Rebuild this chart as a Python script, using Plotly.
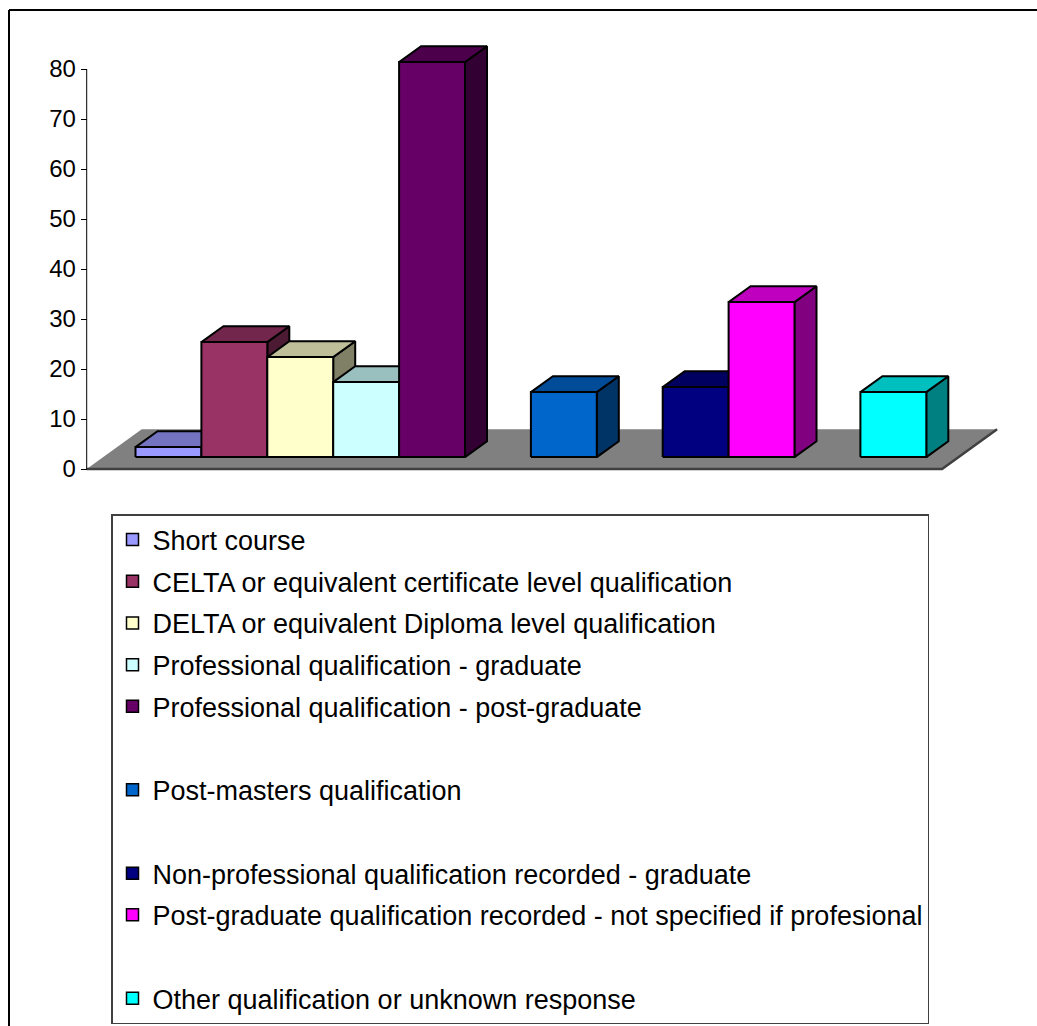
import plotly.graph_objects as go

# ---- data -------------------------------------------------------------
series_names = [
    "Short course",
    "CELTA or equivalent certificate level qualification",
    "DELTA or equivalent Diploma level qualification",
    "Professional qualification - graduate",
    "Professional qualification - post-graduate",
    "",
    "Post-masters qualification",
    "",
    "Non-professional qualification recorded - graduate",
    "Post-graduate qualification recorded - not specified if profesional",
    "",
    "Other qualification or unknown response",
]
series_colors = [
    "#9999FF", "#993366", "#FFFFCC", "#CCFFFF", "#660066", "#FF8080",
    "#0066CC", "#CCCCFF", "#000080", "#FF00FF", "#FFFF00", "#00FFFF",
]
series_values = [2, 23, 20, 15, 79, None, 13, None, 14, 31, None, 13]
y_ticks = [0, 10, 20, 30, 40, 50, 60, 70, 80]

# ---- page / plot geometry (pixels) ------------------------------------
W, H = 1037, 1026
PLOT_L, PLOT_R, PLOT_T, PLOT_B = 76, 1000, 20, 480
AXIS_X_PX, ZERO_Y_PX = 86.7, 469.0
SLOT_PX, VAL_PX = 65.9, 5.0

# ---- oblique 3D projection in data units ------------------------------
FLOOR_L, FLOOR_R = -0.49, 12.49      # floor extent in slot units
DEPTH_DX, DEPTH_DY = 0.835, 7.94     # full floor depth as (slots, values)
BAR_D0, BAR_D1 = 0.30, 0.70          # bar front / back depth fractions


def proj(s, v, d):
    return s + d * DEPTH_DX, v + d * DEPTH_DY


def shade(hex_color, k):
    h = hex_color.lstrip("#")
    r, g, b = (int(h[i:i + 2], 16) for i in (0, 2, 4))
    return "#%02X%02X%02X" % (round(r * k), round(g * k), round(b * k))


def poly(points, fill, line_color="black", line_width=2):
    xs = [p[0] for p in points] + [points[0][0]]
    ys = [p[1] for p in points] + [points[0][1]]
    return go.Scatter(
        x=xs, y=ys, mode="lines", fill="toself", fillcolor=fill,
        line=dict(color=line_color, width=line_width),
        hoverinfo="skip", showlegend=False,
    )


fig = go.Figure()

# floor
floor_pts = [proj(FLOOR_L, 0, 0), proj(FLOOR_R, 0, 0),
             proj(FLOOR_R, 0, 1), proj(FLOOR_L, 0, 1)]
fig.add_trace(poly(floor_pts, "#808080", "#808080", 0))
edge = [proj(FLOOR_L, 0, 0), proj(FLOOR_R, 0, 0), proj(FLOOR_R, 0, 1)]
fig.add_trace(go.Scatter(
    x=[p[0] for p in edge], y=[p[1] for p in edge], mode="lines",
    line=dict(color="#404040", width=2.5), hoverinfo="skip", showlegend=False,
))

# bars, painted left to right: side, top, front
for k, (val, col) in enumerate(zip(series_values, series_colors)):
    if val is None:
        continue
    side = [proj(k + 1, 0, BAR_D0), proj(k + 1, 0, BAR_D1),
            proj(k + 1, val, BAR_D1), proj(k + 1, val, BAR_D0)]
    top = [proj(k, val, BAR_D0), proj(k + 1, val, BAR_D0),
           proj(k + 1, val, BAR_D1), proj(k, val, BAR_D1)]
    front = [proj(k, 0, BAR_D0), proj(k + 1, 0, BAR_D0),
             proj(k + 1, val, BAR_D0), proj(k, val, BAR_D0)]
    fig.add_trace(poly(side, shade(col, 0.5)))
    fig.add_trace(poly(top, shade(col, 0.75)))
    fig.add_trace(poly(front, col))

# legend entries
for i, (name, col, val) in enumerate(zip(series_names, series_colors, series_values)):
    blank = val is None
    fig.add_trace(go.Bar(
        x=[None], y=[None], name=name if name else " ",
        legendgroup="g%d" % i,
        marker=dict(color="rgba(0,0,0,0)" if blank else col,
                    line=dict(color="rgba(0,0,0,0)" if blank else "black",
                              width=0 if blank else 1.5)),
    ))

pw = PLOT_R - PLOT_L
ph = PLOT_B - PLOT_T
x_range = [FLOOR_L - (AXIS_X_PX - PLOT_L) / SLOT_PX,
           FLOOR_L + (PLOT_R - AXIS_X_PX) / SLOT_PX]
y_range = [-(PLOT_B - ZERO_Y_PX) / VAL_PX, (ZERO_Y_PX - PLOT_T) / VAL_PX]


def px_x(px):
    return (px - PLOT_L) / pw


def px_y(py):
    return (PLOT_B - py) / ph


fig.update_layout(
    width=W, height=H,
    margin=dict(l=PLOT_L, r=W - PLOT_R, t=PLOT_T, b=H - PLOT_B,
                autoexpand=False),
    paper_bgcolor="white", plot_bgcolor="white",
    font=dict(family="Liberation Sans, Arial, sans-serif", color="black"),
    xaxis=dict(range=x_range, visible=False, fixedrange=True),
    yaxis=dict(
        range=y_range, anchor="free", position=(AXIS_X_PX - PLOT_L) / pw,
        tickvals=y_ticks, ticktext=[str(v) for v in y_ticks],
        ticks="outside", ticklen=6, tickwidth=1, tickcolor="black",
        tickfont=dict(size=24, color="black"),
        showgrid=False, zeroline=False, showline=False, fixedrange=True,
    ),
    showlegend=True,
    legend=dict(
        x=px_x(111), y=px_y(514), xanchor="left", yanchor="top",
        traceorder="grouped", tracegroupgap=3.6,
        bordercolor="#404040", borderwidth=1.5, bgcolor="white",
        font=dict(size=27, color="black"),
    ),
    shapes=[
        # value axis line
        dict(type="line", xref="x", yref="y", x0=FLOOR_L, x1=FLOOR_L,
             y0=0, y1=y_ticks[-1], line=dict(color="black", width=1)),
        # chart frame: left and top edges
        dict(type="line", xref="paper", yref="paper",
             x0=px_x(9), x1=px_x(9), y0=px_y(H + 20), y1=px_y(10),
             line=dict(color="black", width=2)),
        dict(type="line", xref="paper", yref="paper",
             x0=px_x(9), x1=px_x(W + 20), y0=px_y(10), y1=px_y(10),
             line=dict(color="black", width=2)),
    ],
)

fig.write_html("out.html")
